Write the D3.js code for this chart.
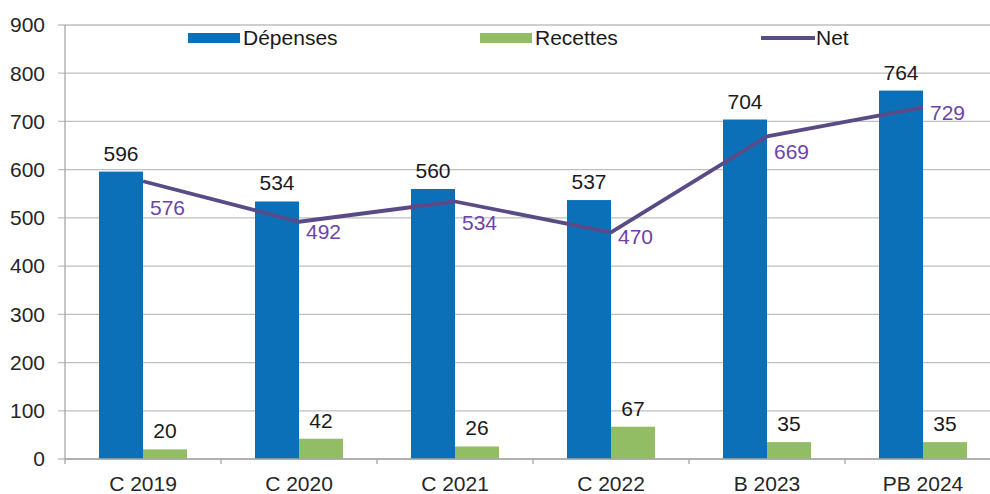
<!DOCTYPE html>
<html>
<head>
<meta charset="utf-8">
<script src="https://cdn.jsdelivr.net/npm/d3@7"></script>
<style>
  html, body { margin: 0; padding: 0; background: #fff; }
  svg { display: block; font-family: "Liberation Sans", Arial, sans-serif; }
</style>
</head>
<body>
<div id="chart"></div>
<script>
// Données du graphique
const categories = ["C 2019", "C 2020", "C 2021", "C 2022", "B 2023", "PB 2024"];
const depenses = [596, 534, 560, 537, 704, 764];
const recettes = [20, 42, 26, 67, 35, 35];
const net = [576, 492, 534, 470, 669, 729];
const yTicks = [0, 100, 200, 300, 400, 500, 600, 700, 800, 900];

// Décalage vertical des étiquettes "Net" (mise en page)
const netLabelDy = [26, 10, 21, 4, 15, 5];

const W = 990, H = 494;
const plot = {left: 65, right: 1001, top: 25, bottom: 459};
const fontSize = "21px";

const svg = d3.select("#chart").append("svg")
  .attr("width", W)
  .attr("height", H);

// Échelles
const x = d3.scaleBand()
  .domain(categories)
  .range([plot.left, plot.right])
  .paddingInner(0)
  .paddingOuter(0);

const y = d3.scaleLinear()
  .domain([0, 900])
  .range([plot.bottom, plot.top]);

const barW = 44;
const cx = d => x(d) + x.bandwidth() / 2;

// Grille horizontale
svg.append("g")
  .selectAll("line")
  .data(yTicks)
  .enter().append("line")
  .attr("x1", plot.left - 7)
  .attr("x2", plot.right)
  .attr("y1", d => y(d))
  .attr("y2", d => y(d))
  .attr("stroke", "#bfbfbf")
  .attr("stroke-width", 1.3);

// Axe vertical
svg.append("line")
  .attr("x1", plot.left).attr("x2", plot.left)
  .attr("y1", plot.top).attr("y2", plot.bottom)
  .attr("stroke", "#a6a6a6")
  .attr("stroke-width", 1.3);

// Étiquettes de l'axe Y
svg.append("g")
  .selectAll("text")
  .data(yTicks)
  .enter().append("text")
  .attr("x", 45)
  .attr("y", d => y(d))
  .attr("dy", "0.35em")
  .attr("text-anchor", "end")
  .attr("fill", "#262626")
  .style("font-size", fontSize)
  .text(d => d);

// Barres Dépenses
svg.append("g")
  .selectAll("rect")
  .data(categories)
  .enter().append("rect")
  .attr("x", (d) => cx(d) - barW)
  .attr("y", (d, i) => y(depenses[i]))
  .attr("width", barW)
  .attr("height", (d, i) => y(0) - y(depenses[i]))
  .attr("fill", "#0b70b8");

// Barres Recettes
svg.append("g")
  .selectAll("rect")
  .data(categories)
  .enter().append("rect")
  .attr("x", (d) => cx(d))
  .attr("y", (d, i) => y(recettes[i]))
  .attr("width", barW)
  .attr("height", (d, i) => y(0) - y(recettes[i]))
  .attr("fill", "#93bd64");

// Axe X (ligne + graduations)
svg.append("line")
  .attr("x1", plot.left).attr("x2", plot.right)
  .attr("y1", plot.bottom).attr("y2", plot.bottom)
  .attr("stroke", "#a6a6a6")
  .attr("stroke-width", 1.3);

svg.append("g")
  .selectAll("line")
  .data(categories)
  .enter().append("line")
  .attr("x1", d => x(d)).attr("x2", d => x(d))
  .attr("y1", plot.bottom).attr("y2", plot.bottom + 5)
  .attr("stroke", "#a6a6a6")
  .attr("stroke-width", 1.3);

svg.append("g")
  .selectAll("text")
  .data(categories)
  .enter().append("text")
  .attr("x", d => cx(d))
  .attr("y", 484)
  .attr("dy", "0.35em")
  .attr("text-anchor", "middle")
  .attr("fill", "#262626")
  .style("font-size", fontSize)
  .text(d => d);

// Courbe Net
const line = d3.line()
  .x((d, i) => cx(categories[i]))
  .y(d => y(d));

svg.append("path")
  .datum(net)
  .attr("d", line)
  .attr("fill", "none")
  .attr("stroke", "#5a4b87")
  .attr("stroke-width", 3.8)
  .attr("stroke-linejoin", "round");

// Étiquettes de valeurs
svg.append("g")
  .selectAll("text")
  .data(categories)
  .enter().append("text")
  .attr("x", d => cx(d) - barW / 2)
  .attr("y", (d, i) => y(depenses[i]) - 11)
  .attr("text-anchor", "middle")
  .attr("fill", "#1a1a1a")
  .style("font-size", fontSize)
  .text((d, i) => depenses[i]);

svg.append("g")
  .selectAll("text")
  .data(categories)
  .enter().append("text")
  .attr("x", d => cx(d) + barW / 2)
  .attr("y", (d, i) => y(recettes[i]) - 11)
  .attr("text-anchor", "middle")
  .attr("fill", "#1a1a1a")
  .style("font-size", fontSize)
  .text((d, i) => recettes[i]);

svg.append("g")
  .selectAll("text")
  .data(categories)
  .enter().append("text")
  .attr("x", d => cx(d) + 7)
  .attr("y", (d, i) => y(net[i]) + netLabelDy[i])
  .attr("dy", "0.35em")
  .attr("text-anchor", "start")
  .attr("fill", "#7042a8")
  .style("font-size", fontSize)
  .text((d, i) => net[i]);

// Légende
const legend = svg.append("g");
const legendItems = [
  {name: "Dépenses", x: 188, type: "rect", color: "#0b70b8"},
  {name: "Recettes", x: 480, type: "rect", color: "#93bd64"},
  {name: "Net", x: 761, type: "line", color: "#5a4b87"}
];
legendItems.forEach(it => {
  if (it.type === "rect") {
    legend.append("rect")
      .attr("x", it.x).attr("y", 33)
      .attr("width", 52).attr("height", 10)
      .attr("fill", it.color);
  } else {
    legend.append("line")
      .attr("x1", it.x).attr("x2", it.x + 54)
      .attr("y1", 38).attr("y2", 38)
      .attr("stroke", it.color)
      .attr("stroke-width", 3.8);
  }
  legend.append("text")
    .attr("x", it.x + 55)
    .attr("y", 38)
    .attr("dy", "0.35em")
    .attr("fill", "#1a1a1a")
    .style("font-size", fontSize)
    .text(it.name);
});
</script>
</body>
</html>
